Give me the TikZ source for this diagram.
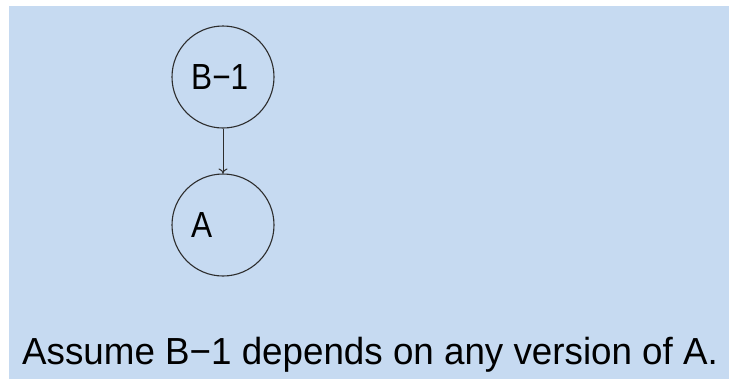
\documentclass[tikz,border=0pt]{standalone}
\usepackage{fontspec}
\setmainfont{Liberation Sans}
\usetikzlibrary{arrows.meta}
\definecolor{bgblue}{RGB}{198,218,241}
\definecolor{ink}{RGB}{45,45,45}
\tikzset{
  verbox/.style={circle,draw=ink,line width=1.1pt,minimum size=102pt,inner sep=0pt},
  verlabel/.style={anchor=base west,inner sep=0pt,font=\fontsize{36.3}{40}\selectfont},
  dep/.style={draw=ink,line width=1pt,-{To[length=5pt,width=9pt]}},
}
\begin{document}
\begin{tikzpicture}[x=1pt,y=-1pt]
\path[fill=white] (0,0) rectangle (729,381);
\path[fill=bgblue] (9,6) rectangle (729,379);
\useasboundingbox (0,0) rectangle (729,381);
\node[verbox] (b) at (223,77) {};
\node[verbox] (a) at (223,225) {};
\node[verlabel] (bl) at (191,89.5) {\scalebox{0.87}[1]{B−1}};
\node[verlabel] (al) at (191,237.5) {\scalebox{0.87}[1]{A}};
\draw[dep] (b.south) -- (a.north);
\node[anchor=base west,inner sep=0pt,font=\fontsize{37.7}{42}\selectfont] (cap) at (22,364.5) {\scalebox{0.975}[1]{Assume B−1 depends on any version of A.}};
\end{tikzpicture}
\end{document}
